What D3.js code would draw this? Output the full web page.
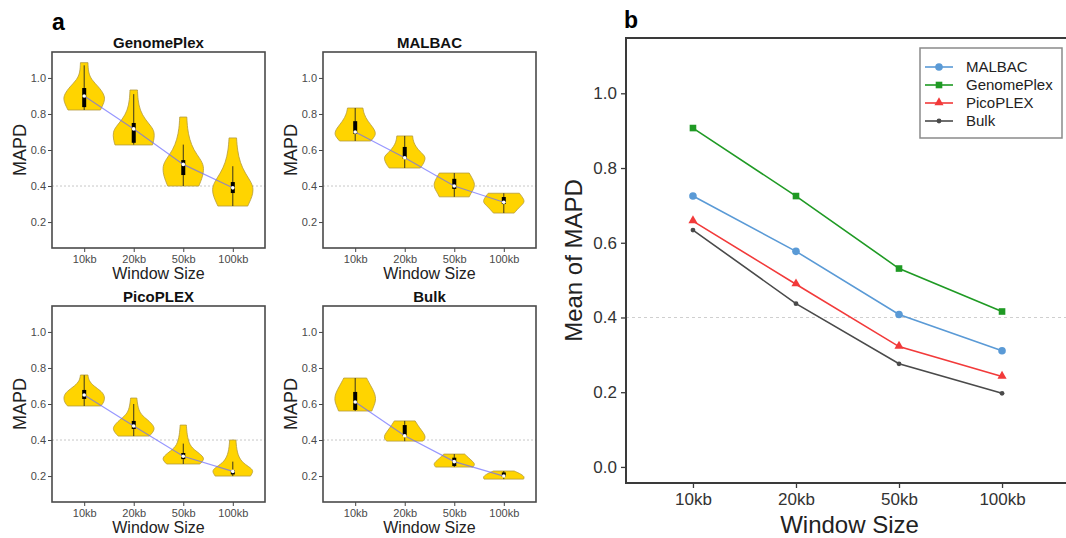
<!DOCTYPE html>
<html>
<head>
<meta charset="utf-8">
<script src="https://cdn.jsdelivr.net/npm/d3@7"></script>
<style>
  body { margin: 0; background: #fff; }
  text { font-family: "Liberation Sans", Arial, sans-serif; }
</style>
</head>
<body>
<div class="svg-container"></div>
<script>
var width = 1066;
var height = 538;

var windows = ["10kb", "20kb", "50kb", "100kb"];
var aTicks = [0.2, 0.4, 0.6, 0.8, 1.0];
var bTicks = [0.0, 0.2, 0.4, 0.6, 0.8, 1.0];

// violin outlines per window: [MAPD, relative width], top to bottom
var genomePlexShape = [
  [[1.085, 0.18], [1.03, 0.2], [0.99, 0.35], [0.95, 0.7], [0.91, 0.95], [0.88, 1.0], [0.85, 0.9], [0.822, 0.78]],
  [[0.933, 0.18], [0.88, 0.2], [0.82, 0.3], [0.77, 0.55], [0.73, 0.85], [0.70, 1.0], [0.66, 0.98], [0.628, 0.9]],
  [[0.783, 0.17], [0.72, 0.2], [0.66, 0.3], [0.60, 0.5], [0.55, 0.82], [0.51, 1.0], [0.46, 0.95], [0.42, 0.82], [0.40, 0.75]],
  [[0.667, 0.18], [0.60, 0.22], [0.53, 0.35], [0.47, 0.6], [0.42, 0.9], [0.38, 1.0], [0.34, 0.92], [0.31, 0.8], [0.289, 0.72]]
];
var malbacShape = [
  [[0.833, 0.37], [0.80, 0.42], [0.76, 0.6], [0.72, 0.9], [0.69, 1.0], [0.67, 0.9], [0.65, 0.75]],
  [[0.678, 0.38], [0.64, 0.42], [0.60, 0.65], [0.57, 0.95], [0.55, 1.0], [0.52, 0.88], [0.50, 0.75]],
  [[0.472, 0.72], [0.44, 0.88], [0.41, 1.0], [0.38, 0.92], [0.36, 0.8], [0.34, 0.72]],
  [[0.36, 0.75], [0.33, 0.95], [0.31, 1.0], [0.29, 0.82], [0.27, 0.65], [0.25, 0.5]]
];
var picoPlexShape = [
  [[0.761, 0.18], [0.73, 0.22], [0.70, 0.45], [0.67, 0.85], [0.64, 1.0], [0.61, 0.95], [0.589, 0.8]],
  [[0.633, 0.15], [0.58, 0.2], [0.54, 0.35], [0.51, 0.7], [0.48, 0.95], [0.46, 1.0], [0.44, 0.9], [0.422, 0.75]],
  [[0.483, 0.15], [0.43, 0.18], [0.37, 0.3], [0.34, 0.6], [0.31, 0.95], [0.29, 1.0], [0.267, 0.8]],
  [[0.40, 0.15], [0.33, 0.2], [0.28, 0.4], [0.25, 0.8], [0.23, 1.0], [0.21, 0.9], [0.20, 0.85]]
];
var bulkShape = [
  [[0.744, 0.55], [0.70, 0.75], [0.66, 0.95], [0.62, 1.0], [0.59, 0.9], [0.561, 0.8]],
  [[0.506, 0.5], [0.47, 0.7], [0.44, 0.9], [0.42, 1.0], [0.40, 0.95], [0.394, 0.85]],
  [[0.322, 0.5], [0.30, 0.7], [0.28, 0.9], [0.265, 1.0], [0.25, 0.9]],
  [[0.228, 0.5], [0.21, 0.85], [0.195, 1.0], [0.183, 0.95]]
];

// inner boxplots: [whisker low, q1, median, q3, whisker high]
var genomePlexBox = [[0.822, 0.838, 0.90, 0.944, 1.07], [0.63, 0.64, 0.717, 0.75, 0.91], [0.40, 0.461, 0.52, 0.544, 0.63], [0.289, 0.361, 0.39, 0.422, 0.51]];
var malbacBox = [[0.65, 0.69, 0.70, 0.76, 0.833], [0.50, 0.55, 0.557, 0.617, 0.678], [0.34, 0.384, 0.40, 0.44, 0.472], [0.25, 0.30, 0.31, 0.339, 0.36]];
var picoPlexBox = [[0.589, 0.628, 0.65, 0.678, 0.76], [0.422, 0.461, 0.478, 0.506, 0.60], [0.267, 0.294, 0.31, 0.328, 0.38], [0.20, 0.209, 0.226, 0.232, 0.28]];
var bulkBox = [[0.561, 0.567, 0.611, 0.667, 0.744], [0.394, 0.422, 0.424, 0.483, 0.506], [0.25, 0.256, 0.28, 0.302, 0.322], [0.183, 0.196, 0.20, 0.22, 0.228]];

// panel b: mean of MAPD
var seriesNames = ["MALBAC", "GenomePlex", "PicoPLEX", "Bulk"];
var malbacMeans = [0.725, 0.577, 0.408, 0.311];
var genomePlexMeans = [0.907, 0.725, 0.531, 0.416];
var picoPlexMeans = [0.658, 0.489, 0.322, 0.242];
var bulkMeans = [0.634, 0.437, 0.276, 0.197];
var seriesColors = ["#5a9ad6", "#1f9a24", "#f23a3a", "#4a4a4a"];
var seriesShapes = ["circle", "square", "triangle", "dot"];

var svg = d3.select(".svg-container")
            .append("svg")
            .attr("width", width)
            .attr("height", height);

// ---------- panel a ----------
var subW = 213, subH = 196;
var subPos = [[52, 52], [323, 52], [52, 306], [323, 306]];
var subTitles = ["GenomePlex", "MALBAC", "PicoPLEX", "Bulk"];
var subShapes = [genomePlexShape, malbacShape, picoPlexShape, bulkShape];
var subBoxes = [genomePlexBox, malbacBox, picoPlexBox, bulkBox];

var ax = d3.scalePoint().domain(windows).range([0, subW]).padding(0.65);
var ay = d3.scaleLinear().domain([0.056, 1.144]).range([subH, 0]);

svg.append("text")
   .attr("x", 52).attr("y", 30)
   .style("font-size", "23px").style("font-weight", "bold")
   .text("a");

subTitles.forEach(function(name, i) {
    drawViolinPanel(subPos[i][0], subPos[i][1], name, subShapes[i], subBoxes[i]);
});

function drawViolinPanel(px, py, name, shapes, boxes) {
    var g = svg.append("g").attr("transform", "translate(" + px + "," + py + ")");
    var half = ax.step() * 0.42;

    // reference line at 0.4
    g.append("line")
     .attr("x1", 0).attr("x2", subW)
     .attr("y1", ay(0.4)).attr("y2", ay(0.4))
     .attr("stroke", "#c8c8c8").attr("stroke-width", 1)
     .style("stroke-dasharray", "2,2");

    shapes.forEach(function(shape, j) {
        var cx = ax(windows[j]);
        var area = d3.area()
                     .curve(d3.curveBasis)
                     .y(function(d) { return ay(d[0]); })
                     .x0(function(d) { return cx - d[1] * half; })
                     .x1(function(d) { return cx + d[1] * half; });
        g.append("path")
         .datum(shape)
         .attr("d", area)
         .attr("fill", "#ffd400")
         .attr("stroke", "#b49b3c")
         .attr("stroke-width", 0.8);

        var b = boxes[j];
        g.append("line")
         .attr("x1", cx).attr("x2", cx)
         .attr("y1", ay(b[0])).attr("y2", ay(b[4]))
         .attr("stroke", "#222").attr("stroke-width", 0.9);
        g.append("rect")
         .attr("x", cx - 2).attr("width", 4)
         .attr("y", ay(b[3])).attr("height", ay(b[1]) - ay(b[3]))
         .attr("fill", "#000");
    });

    // line through medians
    var medLine = d3.line()
                    .x(function(d, j) { return ax(windows[j]); })
                    .y(function(d) { return ay(d[2]); });
    g.append("path")
     .datum(boxes)
     .attr("d", medLine)
     .attr("fill", "none")
     .attr("stroke", "#6b6bff")
     .attr("stroke-opacity", 0.7)
     .attr("stroke-width", 1.2);

    g.selectAll("circle.med")
     .data(boxes)
     .enter()
     .append("circle")
     .attr("class", "med")
     .attr("cx", function(d, j) { return ax(windows[j]); })
     .attr("cy", function(d) { return ay(d[2]); })
     .attr("r", 1.8)
     .attr("fill", "#fff");

    // axes
    var yA = g.append("g")
              .call(d3.axisLeft(ay).tickValues(aTicks).tickFormat(d3.format(".1f")).tickSize(4).tickPadding(2));
    var xA = g.append("g")
              .attr("transform", "translate(0," + subH + ")")
              .call(d3.axisBottom(ax).tickSize(4).tickPadding(3));
    [yA, xA].forEach(function(a) {
        a.select(".domain").remove();
        a.selectAll("line").attr("stroke", "#444");
        a.selectAll("text").attr("fill", "#4a4a4a").style("font-size", "11px")
         .style("font-family", "'Liberation Sans', Arial, sans-serif");
    });

    g.append("rect")
     .attr("width", subW).attr("height", subH)
     .attr("fill", "none")
     .attr("stroke", "#4a4a4a").attr("stroke-width", 1.6);

    g.append("text")
     .attr("x", subW / 2).attr("y", -4)
     .attr("text-anchor", "middle")
     .style("font-size", "15px").style("font-weight", "bold")
     .attr("fill", "#111")
     .text(name);

    g.append("text")
     .attr("x", subW / 2).attr("y", subH + 31)
     .attr("text-anchor", "middle")
     .style("font-size", "16px")
     .attr("fill", "#222")
     .text("Window Size");

    g.append("text")
     .attr("transform", "rotate(270)")
     .attr("x", -subH / 2).attr("y", -26)
     .attr("text-anchor", "middle")
     .style("font-size", "18px")
     .attr("fill", "#222")
     .text("MAPD");
}

// ---------- panel b ----------
var bx0 = 626, by0 = 38, bW = 443, bH = 445;
var bx = d3.scalePoint().domain(windows).range([0, bW]).padding(0.65);
var by = d3.scaleLinear().domain([-0.043, 1.148]).range([bH, 0]);

var gb = svg.append("g").attr("transform", "translate(" + bx0 + "," + by0 + ")");

svg.append("text")
   .attr("x", 624).attr("y", 28)
   .style("font-size", "23px").style("font-weight", "bold")
   .text("b");

gb.append("line")
  .attr("x1", 0).attr("x2", bW)
  .attr("y1", by(0.4)).attr("y2", by(0.4))
  .attr("stroke", "#cfcfcf").attr("stroke-width", 1.2)
  .style("stroke-dasharray", "3,3");

var allMeans = [malbacMeans, genomePlexMeans, picoPlexMeans, bulkMeans];

var meanLine = d3.line()
                 .x(function(d, j) { return bx(windows[j]); })
                 .y(function(d) { return by(d); });

allMeans.forEach(function(vals, i) {
    gb.append("path")
      .datum(vals)
      .attr("d", meanLine)
      .attr("fill", "none")
      .attr("stroke", seriesColors[i])
      .attr("stroke-width", 1.6);
    vals.forEach(function(v, j) {
        drawMarker(gb, bx(windows[j]), by(v), seriesShapes[i], seriesColors[i]);
    });
});

function drawMarker(g, x, y, shape, color) {
    if (shape == "circle") {
        g.append("circle").attr("cx", x).attr("cy", y).attr("r", 3.8).attr("fill", color);
    } else if (shape == "square") {
        g.append("rect").attr("x", x - 3.3).attr("y", y - 3.3).attr("width", 6.6).attr("height", 6.6).attr("fill", color);
    } else if (shape == "triangle") {
        g.append("path").attr("d", d3.symbol().type(d3.symbolTriangle).size(36)()).attr("transform", "translate(" + x + "," + (y - 0.5) + ")").attr("fill", color);
    } else {
        g.append("circle").attr("cx", x).attr("cy", y).attr("r", 2.4).attr("fill", color);
    }
}

var yB = gb.append("g")
           .call(d3.axisLeft(by).tickValues(bTicks).tickFormat(d3.format(".1f")).tickSize(5).tickPadding(4));
var xB = gb.append("g")
           .attr("transform", "translate(0," + bH + ")")
           .call(d3.axisBottom(bx).tickSize(5).tickPadding(5));
[yB, xB].forEach(function(a) {
    a.select(".domain").remove();
    a.selectAll("line").attr("stroke", "#3a3a3a").attr("stroke-width", 1.3);
    a.selectAll("text").attr("fill", "#333").style("font-size", "17px")
     .style("font-family", "'Liberation Sans', Arial, sans-serif");
});

// frame: left, top, bottom
gb.append("path")
  .attr("d", "M" + bW + ",0H0V" + bH + "H" + bW)
  .attr("fill", "none")
  .attr("stroke", "#3a3a3a").attr("stroke-width", 2);

gb.append("text")
  .attr("x", bW / 2 + 2).attr("y", bH + 50)
  .attr("text-anchor", "middle")
  .style("font-size", "24px")
  .attr("fill", "#222")
  .text("Window Size");

gb.append("text")
  .attr("transform", "rotate(270)")
  .attr("x", -(bH / 2) + 0).attr("y", -44)
  .attr("text-anchor", "middle")
  .style("font-size", "24px")
  .attr("fill", "#222")
  .text("Mean of MAPD");

// legend
var lg = svg.append("g").attr("transform", "translate(920,48)");
lg.append("rect")
  .attr("width", 142).attr("height", 90)
  .attr("fill", "#fff")
  .attr("stroke", "#8a8a8a").attr("stroke-width", 1.5);

seriesNames.forEach(function(name, i) {
    var yy = 19 + i * 18;
    lg.append("line")
      .attr("x1", 5).attr("x2", 33)
      .attr("y1", yy).attr("y2", yy)
      .attr("stroke", seriesColors[i]).attr("stroke-width", 1.6);
    drawMarker(lg, 19, yy, seriesShapes[i], seriesColors[i]);
    lg.append("text")
      .attr("x", 46).attr("y", yy + 5)
      .style("font-size", "15px")
      .attr("fill", "#222")
      .text(name);
});
</script>
</body>
</html>
